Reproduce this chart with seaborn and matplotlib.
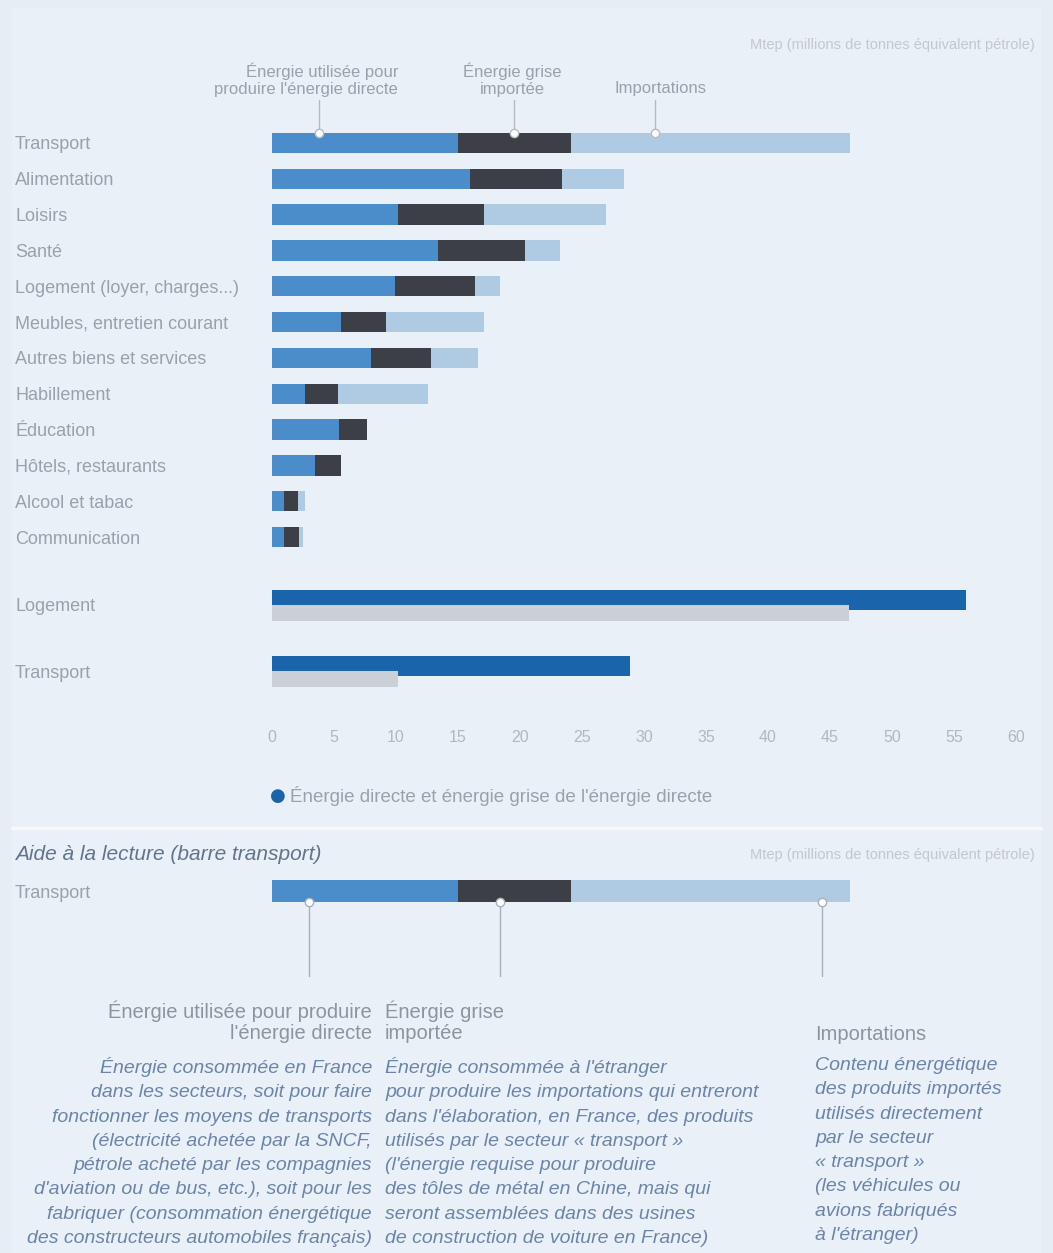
import numpy as np
import pandas as pd
import matplotlib
matplotlib.use("Agg")
import matplotlib.pyplot as plt
import seaborn as sns

# Énergie par poste de consommation (Mtep)
categories = ["Transport", "Alimentation", "Loisirs", "Santé",
              "Logement (loyer, charges...)", "Meubles, entretien courant",
              "Autres biens et services", "Habillement", "Éducation",
              "Hôtels, restaurants", "Alcool et tabac", "Communication"]
energie_production = [15.0, 16.0, 10.2, 13.4, 9.9, 5.6, 8.0, 2.7, 5.4, 3.5, 1.0, 1.0]
energie_grise_importee = [9.1, 7.4, 6.9, 7.0, 6.5, 3.6, 4.8, 2.6, 2.3, 2.1, 1.1, 1.2]
importations = [22.5, 5.0, 9.8, 2.8, 2.0, 7.9, 3.8, 7.3, 0.0, 0.0, 0.6, 0.3]

postes_directs = ["Logement", "Transport"]
energie_directe = [56.0, 28.9]
energie_grise = [46.5, 10.2]

x_ticks = list(range(0, 65, 5))

W, H = 1053, 1253
BG = "#e6edf5"
PANEL = "#e9f0f7"
C_BLUE = "#4b8dca"
C_DARK = "#3c3f45"
C_LIGHT = "#afcbe4"
C_DBLUE = "#1a64ab"
C_GRAY = "#cbd0d7"
C_TXT = "#9aa1aa"
C_NOTE = "#6b84a8"
FONT = ["Liberation Sans", "DejaVu Sans"]

sns.set_theme(style="white")
plt.rcParams["font.family"] = FONT


def fx(px):
    return px / W


def fy(py):
    return 1 - py / H


df = pd.DataFrame({"cat": categories,
                   "prod": energie_production,
                   "grise": energie_grise_importee,
                   "imp": importations})
df["s2"] = df["prod"] + df["grise"]
df["s3"] = df["s2"] + df["imp"]

fig = plt.figure(figsize=(W / 100, H / 100), dpi=100)
fig.patch.set_facecolor(BG)
fig.patches.append(plt.Rectangle((fx(12), 0), fx(1029), fy(8), transform=fig.transFigure,
                                 facecolor=PANEL, edgecolor="none", zorder=-5))

XMAX = (1041 - 272) / 12.4

ax1 = fig.add_axes([fx(272), fy(555), fx(1041) - fx(272), fy(125) - fy(555)])
ax2 = fig.add_axes([fx(272), fy(711), fx(1041) - fx(272), fy(565) - fy(711)])
ax3 = fig.add_axes([fx(272), fy(910), fx(1041) - fx(272), fy(872) - fy(910)])

BW = 0.57
for ax, d in [(ax1, df), (ax3, df.iloc[:1])]:
    sns.barplot(data=d, x="s3", y="cat", color=C_LIGHT, saturation=1, width=BW, ax=ax, orient="h", linewidth=0)
    sns.barplot(data=d, x="s2", y="cat", color=C_DARK, saturation=1, width=BW, ax=ax, orient="h", linewidth=0)
    sns.barplot(data=d, x="prod", y="cat", color=C_BLUE, saturation=1, width=BW, ax=ax, orient="h", linewidth=0)

d2 = pd.DataFrame({"poste": postes_directs, "directe": energie_directe, "grise": energie_grise,
                   "pos": np.arange(len(postes_directs))})
d2["pos_d"] = d2["pos"] - 0.075
d2["pos_g"] = d2["pos"] + 0.12
sns.barplot(data=d2, x="directe", y="pos_d", color=C_DBLUE, saturation=1, width=0.30,
            native_scale=True, orient="h", ax=ax2, linewidth=0)
sns.barplot(data=d2, x="grise", y="pos_g", color=C_GRAY, saturation=1, width=0.24,
            native_scale=True, orient="h", ax=ax2, linewidth=0)
ax2.set_yticks(d2["pos"])
ax2.set_yticklabels(postes_directs)

for ax in (ax1, ax2, ax3):
    ax.set_facecolor("none")
    ax.set_xlabel("")
    ax.set_ylabel("")
    sns.despine(ax=ax, left=True, bottom=True)
    ax.tick_params(axis="y", length=0, pad=185, labelsize=13, labelcolor=C_TXT)
    for lab in ax.get_yticklabels():
        lab.set_ha("left")

ax1.set_xticks([])
ax3.set_xticks([])
ax2.set_xticks(x_ticks)
ax2.set_xticklabels([str(t) for t in x_ticks])
ax2.tick_params(axis="x", length=0, pad=14, labelsize=11.5, labelcolor="#b3b8bf")

# annotations en haut (barre transport)
t_prod, t_grise, t_imp = energie_production[0], energie_grise_importee[0], importations[0]
top_marks = [t_prod * 0.25, t_prod + t_grise * 0.5, t_prod + t_grise + t_imp * 0.3]
for xm in top_marks:
    ax1.plot([xm, xm], [-0.29, -0.29 - 32 / 35.8], color="#b5bbc3", lw=1, zorder=4, clip_on=False)
    ax1.plot(xm, -0.29, "o", ms=6, mfc="white", mec="#b5bbc3", mew=1, zorder=5, clip_on=False)
fig.text(fx(398), fy(80), "Énergie utilisée pour\nproduire l'énergie directe", ha="right", va="center",
         fontsize=12, color=C_TXT, linespacing=1.2)
fig.text(fx(512), fy(80), "Énergie grise\nimportée", ha="center", va="center",
         fontsize=12, color=C_TXT, linespacing=1.2)
fig.text(fx(660), fy(89), "Importations", ha="center", va="center", fontsize=12, color=C_TXT)
fig.text(fx(1035), fy(45), "Mtep (millions de tonnes équivalent pétrole)", ha="right", va="center",
         fontsize=10.5, color="#c3c8cf")

# légende
fig.text(fx(278), fy(796), "●", ha="center", va="center", fontsize=13, color=C_DBLUE, family="DejaVu Sans")
fig.text(fx(290), fy(796), "Énergie directe et énergie grise de l'énergie directe", ha="left", va="center",
         fontsize=13.5, color=C_TXT)

# séparateur
fig.lines.append(plt.Line2D([fx(12), fx(1041)], [fy(828), fy(828)], transform=fig.transFigure,
                            color="#f6f9fc", lw=2.5))

# aide à la lecture
fig.text(fx(15), fy(855), "Aide à la lecture (barre transport)", ha="left", va="center",
         fontsize=15, style="italic", color="#62738a")
fig.text(fx(1035), fy(855), "Mtep (millions de tonnes équivalent pétrole)", ha="right", va="center",
         fontsize=10.5, color="#c3c8cf")

bot_marks = [t_prod * 0.2, t_prod + t_grise * 0.37, t_prod + t_grise + t_imp * 0.9]
for xm in bot_marks:
    ax3.plot([xm, xm], [0.29, 0.29 + 75 / 38.6], color="#a9b0b9", lw=1, zorder=4, clip_on=False)
    ax3.plot(xm, 0.29, "o", ms=6, mfc="white", mec="#a9b0b9", mew=1, zorder=5, clip_on=False)

# limites fixées après les annotations (sinon l'autoscale les élargit)
for ax in (ax1, ax2, ax3):
    ax.set_xlim(0, XMAX)
ax1.set_ylim(len(categories) - 0.5, -0.5)
ax2.set_ylim(1.6, -0.6)
ax3.set_ylim(0.5, -0.5)

fig.text(fx(372), fy(1022), "Énergie utilisée pour produire\nl'énergie directe", ha="right", va="center",
         fontsize=14.5, color="#8d949d", linespacing=1.15)
fig.text(fx(385), fy(1022), "Énergie grise\nimportée", ha="left", va="center",
         fontsize=14.5, color="#8d949d", linespacing=1.15)
fig.text(fx(815), fy(1035), "Importations", ha="left", va="center", fontsize=14.5, color="#8d949d")

para1 = ("Énergie consommée en France\ndans les secteurs, soit pour faire\n"
         "fonctionner les moyens de transports\n(électricité achetée par la SNCF,\n"
         "pétrole acheté par les compagnies\nd'aviation ou de bus, etc.), soit pour les\n"
         "fabriquer (consommation énergétique\ndes constructeurs automobiles français)")
para2 = ("Énergie consommée à l'étranger\npour produire les importations qui entreront\n"
         "dans l'élaboration, en France, des produits\nutilisés par le secteur « transport »\n"
         "(l'énergie requise pour produire\ndes tôles de métal en Chine, mais qui\n"
         "seront assemblées dans des usines\nde construction de voiture en France)")
para3 = ("Contenu énergétique\ndes produits importés\nutilisés directement\npar le secteur\n"
         "« transport »\n(les véhicules ou\navions fabriqués\nà l'étranger)")
for xp, txt, ha in [(372, para1, "right"), (385, para2, "left"), (815, para3, "left")]:
    fig.text(fx(xp), fy(1057), txt, ha=ha, va="top", fontsize=14, style="italic",
             color=C_NOTE, linespacing=1.56)

fig.savefig("out.png", dpi=100, facecolor=BG)
